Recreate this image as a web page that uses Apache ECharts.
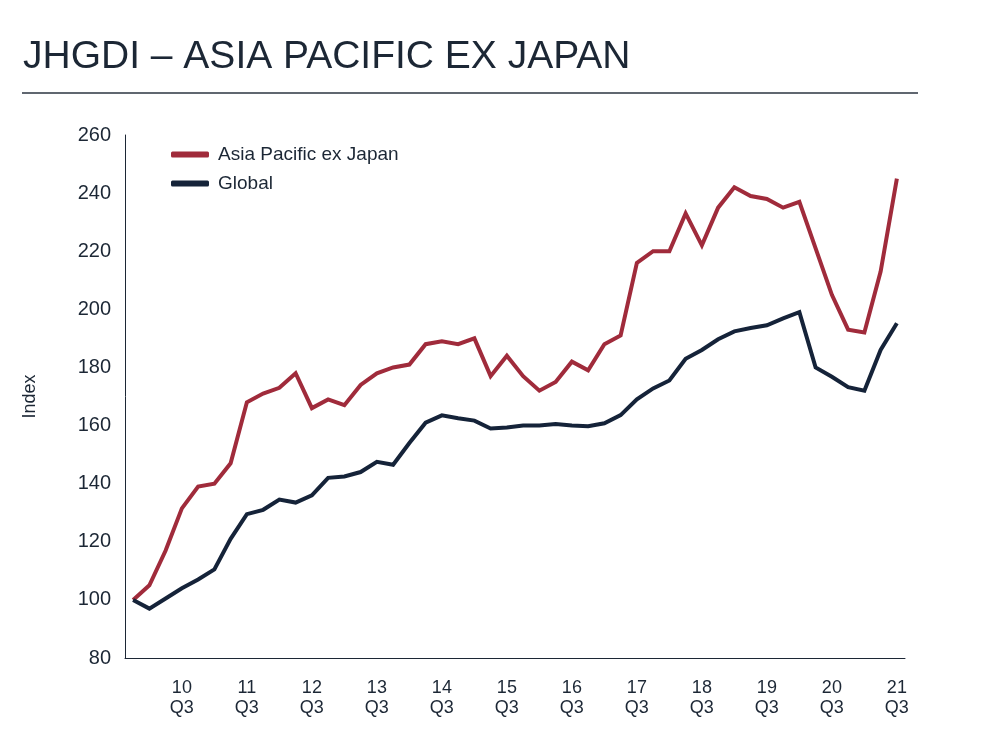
<!DOCTYPE html>
<html>
<head>
<meta charset="utf-8">
<script src="https://cdn.jsdelivr.net/npm/echarts@6/dist/echarts.min.js"></script>
<style>
  html, body { margin: 0; padding: 0; background: #fff; }
  #chart { width: 1005px; height: 746px; }
</style>
</head>
<body>
<div id="chart"></div>
<script>
// quarters, 2009 Q4 .. 2021 Q3
var quarters = [
	'09 Q4',
	'10 Q1', '10 Q2', '10 Q3', '10 Q4',
	'11 Q1', '11 Q2', '11 Q3', '11 Q4',
	'12 Q1', '12 Q2', '12 Q3', '12 Q4',
	'13 Q1', '13 Q2', '13 Q3', '13 Q4',
	'14 Q1', '14 Q2', '14 Q3', '14 Q4',
	'15 Q1', '15 Q2', '15 Q3', '15 Q4',
	'16 Q1', '16 Q2', '16 Q3', '16 Q4',
	'17 Q1', '17 Q2', '17 Q3', '17 Q4',
	'18 Q1', '18 Q2', '18 Q3', '18 Q4',
	'19 Q1', '19 Q2', '19 Q3', '19 Q4',
	'20 Q1', '20 Q2', '20 Q3', '20 Q4',
	'21 Q1', '21 Q2', '21 Q3'
];

var asiaPacific = [
	100, 105, 117, 131.5, 139, 140, 147, 168, 171, 173, 178, 166,
	169, 167, 174, 178, 180, 181, 188, 189, 188, 190, 177, 184,
	177, 172, 175, 182, 179, 188, 191, 216, 220, 220, 233, 222,
	235, 242, 239, 238, 235, 237, 221, 205, 193, 192, 213, 245
];

var globalIdx = [
	100, 97, 100.5, 104, 107, 110.5, 121, 129.5, 131, 134.5, 133.5, 136,
	142, 142.5, 144, 147.5, 146.5, 154, 161, 163.5, 162.5, 161.7, 159, 159.3,
	160, 160, 160.5, 160, 159.8, 160.8, 163.6, 169, 172.8, 175.5, 183, 186,
	189.7, 192.4, 193.6, 194.5, 196.9, 199, 180, 176.8, 173.2, 172, 186, 195.2
];

var yTicks = { min: 80, max: 260, step: 20 };

var textColor = '#1c2735';
var font = '"Liberation Sans", Arial, sans-serif';

var myChart = echarts.init(document.getElementById('chart'), null, { renderer: 'canvas' });

var options = {
	animation: false,
	backgroundColor: '#fff',
	title: {
		text: 'JHGDI – ASIA PACIFIC EX JAPAN',
		left: 18,
		top: 33,
		textStyle: {
			fontFamily: font,
			fontSize: 39,
			fontWeight: 'normal',
			color: textColor
		}
	},
	graphic: [{
		type: 'line',
		shape: { x1: 22, y1: 93, x2: 918, y2: 93 },
		style: { stroke: '#2b3440', lineWidth: 1.5 }
	}],
	legend: {
		orient: 'vertical',
		left: 166,
		top: 140,
		itemWidth: 38,
		itemHeight: 6,
		itemGap: 10,
		icon: 'roundRect',
		textStyle: { fontFamily: font, fontSize: 19, color: textColor, padding: [0, 0, 0, 4] },
		data: ['Asia Pacific ex Japan', 'Global']
	},
	grid: {
		left: 125,
		right: 100,
		top: 135,
		bottom: 88
	},
	xAxis: {
		type: 'category',
		boundaryGap: true,
		data: quarters,
		axisLine: { lineStyle: { color: '#1c2735', width: 1 } },
		axisTick: { show: false },
		axisLabel: {
			interval: function (index) { return index % 4 === 3; },
			margin: 20,
			lineHeight: 20,
			fontFamily: font,
			fontSize: 18,
			color: textColor,
			formatter: function (v) { return v.replace(' ', '\n'); }
		}
	},
	yAxis: {
		type: 'value',
		min: yTicks.min,
		max: yTicks.max,
		interval: yTicks.step,
		name: 'Index',
		nameLocation: 'middle',
		nameGap: 86,
		nameRotate: 90,
		nameTextStyle: { fontFamily: font, fontSize: 18, color: textColor },
		axisLine: { show: true, lineStyle: { color: '#1c2735', width: 1 } },
		axisTick: { show: false },
		splitLine: { show: false },
		axisLabel: { margin: 14, fontFamily: font, fontSize: 20, color: textColor }
	},
	series: [{
		name: 'Asia Pacific ex Japan',
		type: 'line',
		data: asiaPacific,
		symbol: 'none',
		color: '#a02b3b',
		lineStyle: { width: 4, color: '#a02b3b', join: 'miter' }
	}, {
		name: 'Global',
		type: 'line',
		data: globalIdx,
		symbol: 'none',
		color: '#152339',
		lineStyle: { width: 4, color: '#152339', join: 'miter' }
	}]
};

myChart.setOption(options);
</script>
</body>
</html>
